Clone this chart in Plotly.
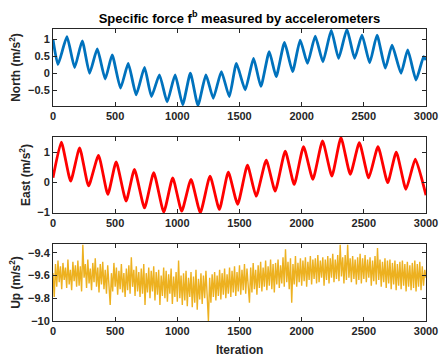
import plotly.graph_objects as go

# ---- data ----
north_iter = [0, 40, 112, 174, 235, 294, 356, 420, 476, 543, 605, 669, 736, 792, 856, 918,
              982, 1043, 1105, 1166, 1230, 1289, 1354, 1418, 1475, 1546, 1613, 1672, 1739,
              1795, 1862, 1927, 1988, 2047, 2109, 2171, 2238, 2297, 2364, 2426, 2485, 2547,
              2606, 2673, 2727, 2799, 2853, 2920, 2981, 3000]
north_val = [1.0, 0.26, 1.08, 0.17, 0.96, 0.0, 0.72, -0.17, 0.54, -0.44, 0.29, -0.64, 0.17,
             -0.69, -0.05, -0.85, -0.05, -0.93, 0.0, -0.95, -0.05, -0.74, 0.05, -0.69, 0.29,
             -0.49, 0.44, -0.39, 0.64, -0.1, 0.91, 0.05, 0.98, 0.29, 1.1, 0.34, 1.27, 0.44,
             1.30, 0.44, 1.13, 0.31, 1.13, 0.15, 0.83, 0.0, 0.69, -0.2, 0.49, 0.39]

east_iter = [0, 67, 142, 214, 286, 366, 441, 508, 588, 655, 736, 810, 891, 963, 1035, 1110,
             1185, 1263, 1338, 1410, 1485, 1564, 1634, 1715, 1787, 1868, 1940, 2015, 2090,
             2168, 2243, 2316, 2391, 2464, 2539, 2614, 2692, 2761, 2839, 2914, 3000]
east_val = [0.14, 1.33, 0.03, 1.14, -0.13, 0.89, -0.41, 0.67, -0.63, 0.42, -0.86, 0.31, -1.0,
            0.14, -0.97, 0.09, -1.02, 0.2, -0.91, 0.33, -0.74, 0.56, -0.47, 0.73, -0.3, 1.03,
            -0.08, 1.18, 0.09, 1.37, 0.2, 1.48, 0.26, 1.31, 0.14, 1.18, -0.02, 1.0, -0.24,
            0.76, -0.44]

# Up channel, one value every 10 iterations (0..3000)
up_step = 10
up_val = [
    -9.58, -9.79, -9.50, -9.70, -9.47, -9.66, -9.52, -9.72, -9.49, -9.64,
    -9.53, -9.71, -9.46, -9.68, -9.55, -9.73, -9.48, -9.65, -9.51, -9.70,
    -9.47, -9.69, -9.52, -9.74, -9.33, -9.62, -9.50, -9.71, -9.46, -9.67,
    -9.54, -9.73, -9.49, -9.66, -9.45, -9.70, -9.53, -9.75, -9.50, -9.68,
    -9.48, -9.72, -9.55, -9.76, -9.51, -9.69, -9.86, -9.58, -9.74, -9.49,
    -9.70, -9.53, -9.77, -9.56, -9.72, -9.50, -9.75, -9.58, -9.79, -9.54,
    -9.73, -9.51, -9.76, -9.44, -9.70, -9.55, -9.78, -9.52, -9.74, -9.57,
    -9.79, -9.54, -9.76, -9.50, -9.86, -9.58, -9.75, -9.53, -9.80, -9.56,
    -9.74, -9.52, -9.82, -9.57, -9.77, -9.55, -9.86, -9.60, -9.78, -9.53,
    -9.80, -9.56, -9.83, -9.59, -9.76, -9.54, -9.85, -9.61, -9.79, -9.57,
    -9.83, -9.47, -9.80, -9.60, -9.86, -9.58, -9.82, -9.56, -9.87, -9.62,
    -9.79, -9.57, -9.88, -9.61, -9.84, -9.55, -9.90, -9.63, -9.81, -9.58,
    -9.85, -9.60, -9.80, -9.56, -9.83, -10.00, -9.62, -9.84, -9.59, -9.79,
    -9.57, -9.82, -9.60, -9.78, -9.55, -9.81, -9.58, -9.77, -9.54, -9.80,
    -9.59, -9.76, -9.53, -9.79, -9.56, -9.75, -9.52, -9.78, -9.57, -9.74,
    -9.51, -9.77, -9.55, -9.73, -9.50, -9.76, -9.54, -9.72, -9.84, -9.53,
    -9.75, -9.49, -9.72, -9.55, -9.77, -9.51, -9.71, -9.48, -9.74, -9.53,
    -9.70, -9.47, -9.73, -9.52, -9.69, -9.46, -9.72, -9.50, -9.75, -9.49,
    -9.68, -9.46, -9.71, -9.51, -9.67, -9.44, -9.70, -9.37, -9.66, -9.48,
    -9.72, -9.45, -9.84, -9.50, -9.68, -9.43, -9.70, -9.49, -9.66, -9.45,
    -9.69, -9.47, -9.65, -9.44, -9.70, -9.48, -9.64, -9.43, -9.68, -9.46,
    -9.63, -9.45, -9.67, -9.42, -9.66, -9.47, -9.62, -9.44, -9.69, -9.46,
    -9.64, -9.43, -9.67, -9.45, -9.62, -9.41, -9.66, -9.46, -9.63, -9.42,
    -9.65, -9.33, -9.61, -9.44, -9.67, -9.42, -9.64, -9.33, -9.62, -9.45,
    -9.66, -9.43, -9.63, -9.46, -9.68, -9.44, -9.64, -9.41, -9.67, -9.45,
    -9.63, -9.42, -9.66, -9.46, -9.62, -9.44, -9.69, -9.47, -9.65, -9.43,
    -9.68, -9.36, -9.64, -9.46, -9.70, -9.48, -9.66, -9.45, -9.71, -9.47,
    -9.67, -9.46, -9.72, -9.49, -9.68, -9.47, -9.73, -9.50, -9.69, -9.48,
    -9.72, -9.47, -9.69, -9.50, -9.74, -9.48, -9.70, -9.51, -9.73, -9.49,
    -9.71, -9.47, -9.74, -9.50, -9.70, -9.48, -9.73, -9.52, -9.69, -9.55,
    -9.62,
]
up_iter = [i * up_step for i in range(len(up_val))]

x_ticks = [0, 500, 1000, 1500, 2000, 2500, 3000]
north_ticks = [-0.5, 0, 0.5, 1]
east_ticks = [-1, 0, 1]
up_ticks = [-10, -9.8, -9.6, -9.4]

title_text = "Specific force f<sup>b</sup> measured by accelerometers"
ylabels = ["North (m/s<sup>2</sup>)", "East (m/s<sup>2</sup>)", "Up (m/s<sup>2</sup>)"]
xlabel = "Iteration"

# ---- figure ----
FONT = "Liberation Sans, Arial, Helvetica, sans-serif"
AX = "#262626"

fig = go.Figure()
fig.add_trace(go.Scatter(x=north_iter, y=north_val, mode="lines",
                         line=dict(color="#0072BD", width=2.8, shape="spline", smoothing=0.5),
                         xaxis="x", yaxis="y"))
fig.add_trace(go.Scatter(x=east_iter, y=east_val, mode="lines",
                         line=dict(color="#FF0000", width=2.8, shape="spline", smoothing=0.5),
                         xaxis="x2", yaxis="y2"))
fig.add_trace(go.Scatter(x=up_iter, y=up_val, mode="lines",
                         line=dict(color="#EDB120", width=1.4),
                         xaxis="x3", yaxis="y3"))

tickfont = dict(family=FONT, size=11, color=AX, weight="bold")
titlefont = dict(family=FONT, size=12, color=AX, weight="bold")

def xax(anchor):
    return dict(anchor=anchor, domain=[0, 1], range=[0, 3000], tickvals=x_ticks,
                ticks="inside", ticklen=4, tickcolor=AX, showline=True, linecolor=AX,
                linewidth=1, mirror="ticks", showgrid=False, zeroline=False,
                tickfont=tickfont, automargin=False)

def yax(anchor, dom, rng, tv, title):
    return dict(anchor=anchor, domain=dom, range=rng, tickvals=tv,
                ticks="inside", ticklen=4, tickcolor=AX, showline=True, linecolor=AX,
                linewidth=1, mirror="ticks", showgrid=False, zeroline=False,
                tickfont=tickfont, automargin=False,
                title=dict(text=title, font=titlefont, standoff=4))

fig.update_layout(
    width=440, height=356,
    margin=dict(l=53, r=14, t=29, b=35, autoexpand=False),
    paper_bgcolor="white", plot_bgcolor="white",
    showlegend=False,
    xaxis=xax("y"),
    yaxis=yax("x", [0.7363, 1.0], [-0.97, 1.31], north_ticks, ylabels[0]),
    xaxis2=xax("y2"),
    yaxis2=yax("x2", [0.3699, 0.6301], [-1.03, 1.5], east_ticks, ylabels[1]),
    xaxis3=xax("y3"),
    yaxis3=yax("x3", [0.0, 0.2637], [-10.0, -9.324], up_ticks, ylabels[2]),
    title=dict(text=title_text, x=0.5, xref="paper", xanchor="center",
               y=1 - 18 / 356, yref="container", yanchor="middle",
               font=dict(family=FONT, size=13, color="black", weight="bold")),
    annotations=[dict(text=xlabel, x=0.5, xref="paper", y=-29 / 292, yref="paper",
                      xanchor="center", yanchor="middle", showarrow=False,
                      font=titlefont)],
)

fig.write_html("out.html", config={"displayModeBar": False},
               post_script="document.body.style.margin='0';document.body.style.padding='0';")
